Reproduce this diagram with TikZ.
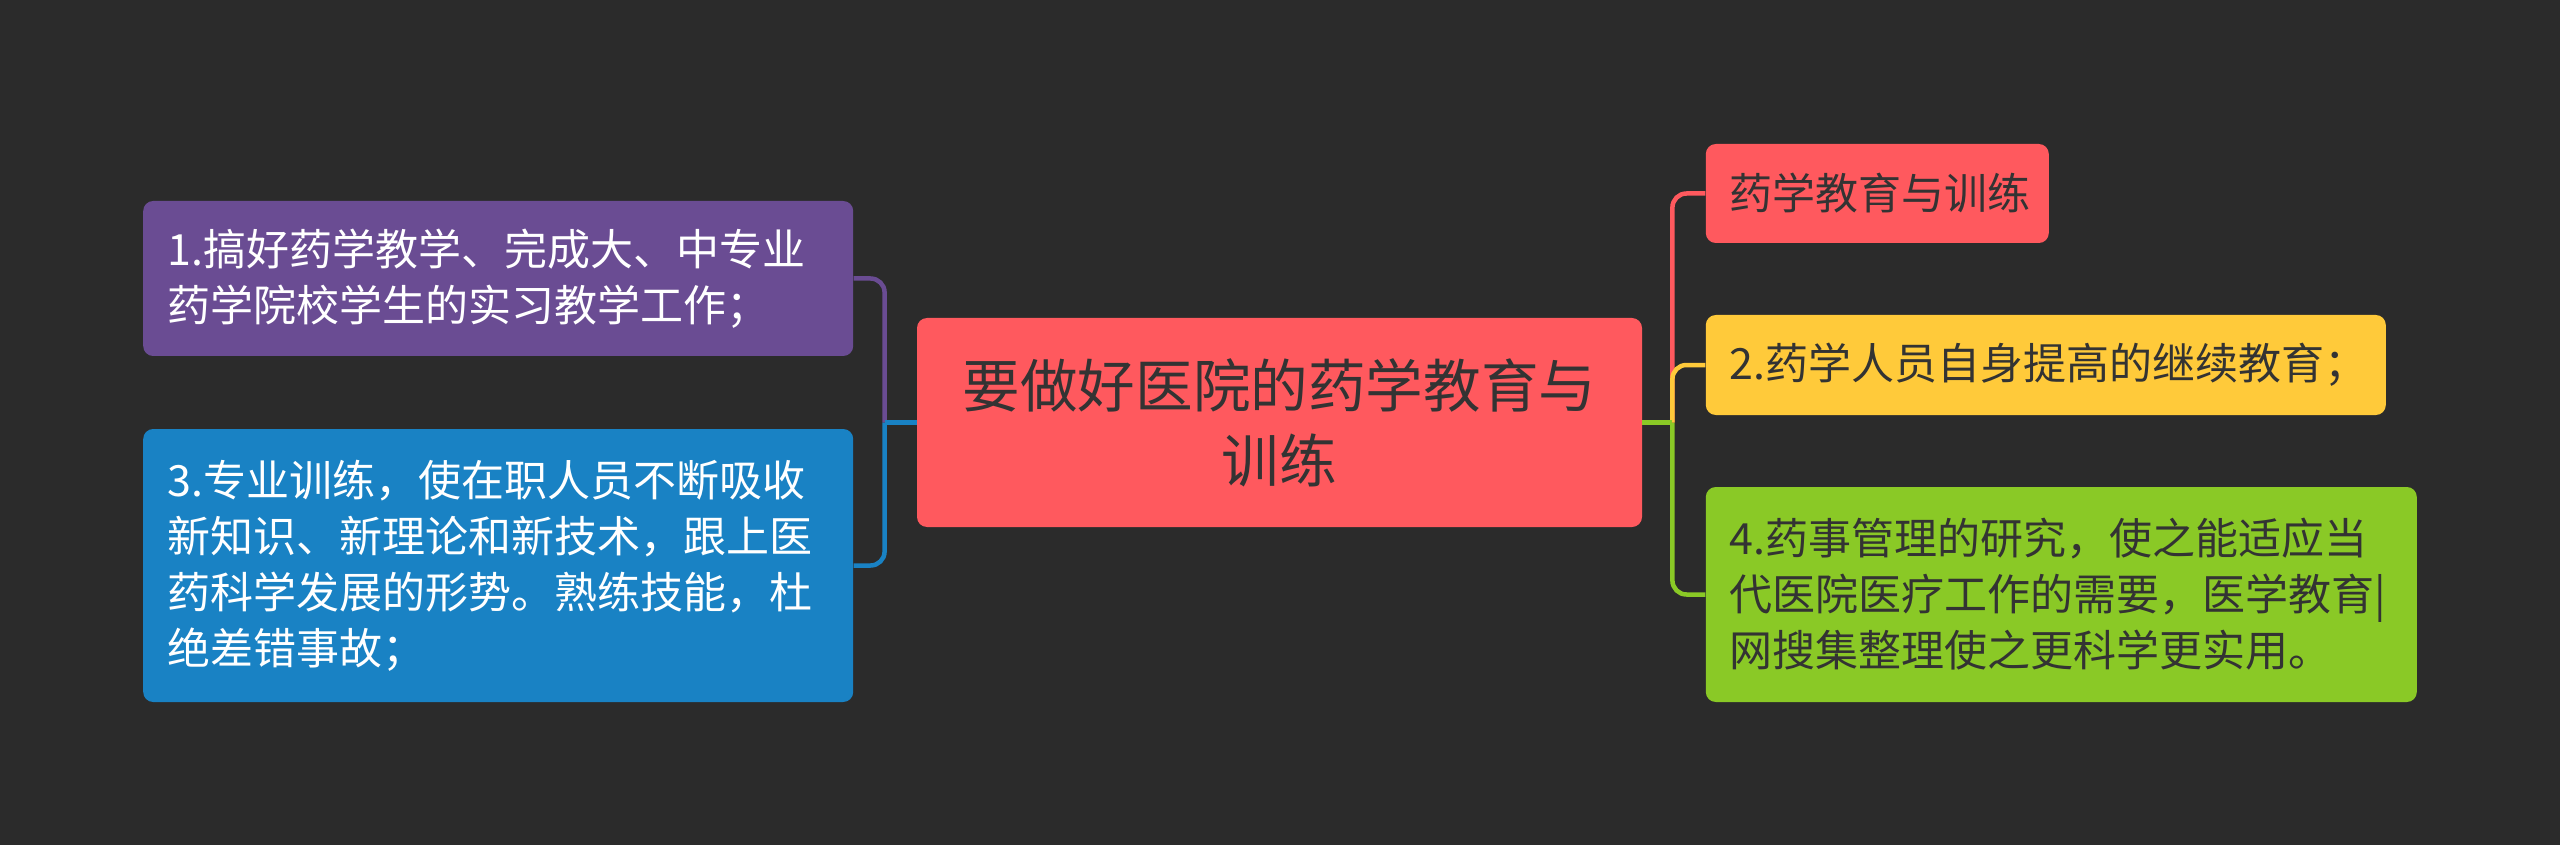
\documentclass[tikz,border=0pt]{standalone}
\usepackage{fontspec}
\newfontfamily\cjk{Noto Sans CJK SC}
\usetikzlibrary{positioning}
\definecolor{bgdark}{HTML}{2B2B2B}
\definecolor{txtdark}{HTML}{333333}
\definecolor{mapred}{HTML}{FF595E}
\definecolor{mapyellow}{HTML}{FFCA3A}
\definecolor{mapgreen}{HTML}{8AC926}
\definecolor{mapblue}{HTML}{1982C4}
\definecolor{mappurple}{HTML}{6A4C93}

\begin{document}
\begin{tikzpicture}[topic/.style={rectangle,rounded corners=5pt,fill=mapred,text=txtdark,font=\cjk\fontsize{28.8}{37.5}\selectfont,align=center,minimum width=362.5pt,minimum height=104.5pt},
	subtopic/.style={rectangle,rounded corners=5pt,font=\cjk\fontsize{21.5}{28}\selectfont,align=left,inner xsep=12pt},
	link/.style={line width=2.25pt,rounded corners=7pt}]
		\fill[bgdark] (0,0) rectangle (1280pt,-422.5pt);
		\useasboundingbox (0,0) rectangle (1280pt,-422.5pt);
		\node[topic] (main) at (639.75pt,-211.25pt) {要做好医院的药学教育与\\训练};
		\node[subtopic,fill=mappurple,text=white,text width=331pt,minimum height=77.5pt] (teaching) [left=31.5pt of main,yshift=72pt] {1.搞好药学教学、完成大、中专业\\药学院校学生的实习教学工作；};
		\node[subtopic,fill=mapblue,text=white,text width=331pt,minimum height=136.5pt] (training) [left=31.5pt of main,yshift=-71.5pt] {3.专业训练，使在职人员不断吸收\\新知识、新理论和新技术，跟上医\\药科学发展的形势。熟练技能，杜\\绝差错事故；};
		\node[subtopic,fill=mapred,text=txtdark,text width=147.5pt,minimum height=49.5pt] (title) [right=31.5pt of main,yshift=114.5pt] {药学教育与训练};
		\node[subtopic,fill=mapyellow,text=txtdark,text width=316pt,minimum height=50pt] (further) [right=31.5pt of main,yshift=28.75pt] {2.药学人员自身提高的继续教育；};
		\node[subtopic,fill=mapgreen,text=txtdark,text width=331.5pt,minimum height=107.5pt] (research) [right=31.5pt of main,yshift=-86pt] {4.药事管理的研究，使之能适应当\\代医院医疗工作的需要，医学教育|\\网搜集整理使之更科学更实用。};
		\coordinate (ljoin) at ([xshift=-16pt]main.west);
		\coordinate (rjoin) at ([xshift=15pt]main.east);
		\draw[link,mappurple] (ljoin) |- (teaching.east);
		\draw[link,mapblue] (ljoin) |- (training.east);
		\draw[link,mapblue] (main.west) -- (ljoin);
		\draw[link,mapred] (rjoin) |- (title.west);
		\draw[link,mapyellow] (rjoin) |- (further.west);
		\draw[link,mapgreen] (rjoin) |- (research.west);
		\draw[link,mapgreen] (main.east) -- (rjoin);
	\end{tikzpicture}
\end{document}
